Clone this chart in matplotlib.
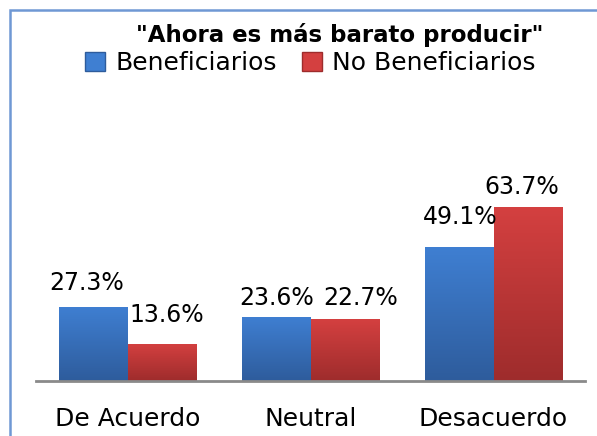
import numpy as np
import matplotlib.pyplot as plt
from matplotlib.patches import Rectangle, Patch
from matplotlib.colors import LinearSegmentedColormap

categories = ["De Acuerdo", "Neutral", "Desacuerdo"]
beneficiarios = [27.3, 23.6, 49.1]
no_beneficiarios = [13.6, 22.7, 63.7]
series_names = ["Beneficiarios", "No Beneficiarios"]

# label nudges (points), so labels sit like in the original
offs_ben = [(-5, 8), (0, 4.5), (0.7, 13)]
offs_no = [(3.6, 12), (11.5, 6.5), (-4.3, 6)]

blue_top, blue_bot = "#3f7fd2", "#2e5c9c"
red_top, red_bot = "#d44040", "#9e2c2c"

fig = plt.figure(figsize=(5.97, 4.36), dpi=100)
# outer blue frame (runs off the right/bottom edge)
fig.patches.append(Rectangle((10 / 597, -0.1), 1.2, 1 - 10 / 436 + 0.1,
                             transform=fig.transFigure, fill=False,
                             edgecolor="#6f98d4", linewidth=1.8))

ax = fig.add_axes([36 / 597, 55 / 436, 549 / 597, 191 / 436])
x = np.arange(len(categories))
w = 0.372


def gradient_bars(bars, top, bot):
    grad = np.linspace(0, 1, 256).reshape(-1, 1)
    cmap = LinearSegmentedColormap.from_list("g", [bot, top])
    for b in bars:
        x0, y0 = b.get_x(), b.get_y()
        im = ax.imshow(grad, extent=[x0, x0 + b.get_width(), y0, y0 + b.get_height()],
                       origin="lower", cmap=cmap, aspect="auto", zorder=2)
        im.set_clip_path(b)
        b.set_facecolor("none")


b1 = ax.bar(x - w / 2, beneficiarios, w, color=blue_top, zorder=1)
b2 = ax.bar(x + w / 2, no_beneficiarios, w, color=red_top, zorder=1)
gradient_bars(b1, blue_top, blue_bot)
gradient_bars(b2, red_top, red_bot)

for bars, vals, offs in [(b1, beneficiarios, offs_ben), (b2, no_beneficiarios, offs_no)]:
    for b, v, o in zip(bars, vals, offs):
        ax.annotate(f"{v}%", (b.get_x() + b.get_width() / 2, v),
                    xytext=o, textcoords="offset points",
                    ha="center", va="bottom", fontsize=17)

ax.set_xlim(-0.5, 2.5)
ax.set_ylim(0, 70)
ax.set_yticks([])
ax.set_xticks(x)
ax.set_xticklabels(categories, fontsize=18)
ax.tick_params(axis="x", length=0, pad=19)
for s in ["top", "right", "left"]:
    ax.spines[s].set_visible(False)
ax.spines["bottom"].set_color("#8a8a8a")
ax.spines["bottom"].set_linewidth(2)

fig.text(340 / 597, 1 - 35 / 436, '"Ahora es más barato producir"',
         ha="center", va="center", fontsize=16.5, fontweight="bold")
handles = [Patch(facecolor=blue_top, edgecolor=blue_bot),
           Patch(facecolor=red_top, edgecolor=red_bot)]
fig.legend(handles, series_names, loc="center", ncol=2,
           bbox_to_anchor=(310 / 597, 1 - 63 / 436), frameon=False,
           fontsize=18, handlelength=0.8, handleheight=0.8,
           handletextpad=0.4, columnspacing=1.0, borderpad=0)

plt.savefig("out.png", dpi=100)
